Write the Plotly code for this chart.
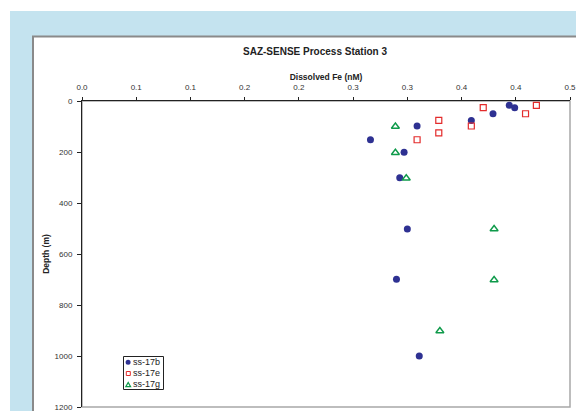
import plotly.graph_objects as go

# ---- data ----
series_names = ["ss-17b", "ss-17e", "ss-17g"]

fe_17b = [0.394, 0.399, 0.379, 0.359, 0.309, 0.266, 0.297, 0.293, 0.300, 0.290, 0.311]
depth_17b = [17, 26, 50, 76, 98, 152, 201, 301, 502, 699, 1000]

fe_17e = [0.419, 0.370, 0.409, 0.329, 0.359, 0.329, 0.309]
depth_17e = [17, 26, 50, 76, 98, 125, 152]

fe_17g = [0.289, 0.289, 0.299, 0.380, 0.380, 0.330]
depth_17g = [100, 203, 303, 502, 702, 902]

x_tickvals = [0.0, 0.05, 0.10, 0.15, 0.20, 0.25, 0.30, 0.35, 0.40, 0.45]
x_ticktext = ["0.0", "0.1", "0.1", "0.2", "0.2", "0.3", "0.3", "0.4", "0.4", "0.5"]
y_tickvals = [0, 200, 400, 600, 800, 1000, 1200]

FONT = "Liberation Sans, Arial, sans-serif"
C_B, C_E, C_G = "#2e3192", "#e32b2b", "#0e9a4a"

fig = go.Figure()
fig.add_trace(go.Scatter(x=fe_17b, y=depth_17b, mode="markers", name=series_names[0],
                         marker=dict(symbol="circle", size=7, color=C_B)))
fig.add_trace(go.Scatter(x=fe_17e, y=depth_17e, mode="markers", name=series_names[1],
                         marker=dict(symbol="square-open", size=6, color=C_E,
                                     line=dict(width=1.2, color=C_E))))
fig.add_trace(go.Scatter(x=fe_17g, y=depth_17g, mode="markers", name=series_names[2],
                         marker=dict(symbol="triangle-up-open", size=7, color=C_G,
                                     line=dict(width=1.4, color=C_G))))

# page has an 8px body margin; figure sized to fit the window
OFF = 8
W, H = 584 - OFF, 411 - OFF
L, R, T, B = 82 - OFF, 14, 101 - OFF, 4
pw, ph = W - L - R, H - T - B


def px(xs):  # screen x -> paper
    return (xs - OFF - L) / pw


def py(ys):  # screen y -> paper
    return (H - B - (ys - OFF)) / ph


shapes = [
    # light blue frame
    dict(type="rect", xref="paper", yref="paper", x0=px(10), x1=px(700), y0=py(700), y1=py(11),
         fillcolor="#c4e3ef", line=dict(width=0), layer="below"),
    # white chart panel
    dict(type="rect", xref="paper", yref="paper", x0=px(33), x1=px(700), y0=py(700), y1=py(36.5),
         fillcolor="white", line=dict(width=2, color="#8a8a8a"), layer="below"),
    # plot area border
    dict(type="rect", xref="paper", yref="paper", x0=0, x1=1, y0=0, y1=1,
         fillcolor="rgba(0,0,0,0)", line=dict(width=1.5, color="#a8a8a8"), layer="below"),
    # legend box
    dict(type="rect", xref="paper", yref="paper", x0=px(123.5), x1=px(163.5), y0=py(389.5), y1=py(356.5),
         fillcolor="white", line=dict(width=1, color="#222222"), layer="above"),
    # legend symbols
    dict(type="circle", xref="paper", yref="paper", x0=px(125.6), x1=px(130.6), y0=py(364.8), y1=py(359.8),
         fillcolor=C_B, line=dict(width=0), layer="above"),
    dict(type="rect", xref="paper", yref="paper", x0=px(126.3), x1=px(130.3), y0=py(375.5), y1=py(371.5),
         fillcolor="white", line=dict(width=1, color=C_E), layer="above"),
    dict(type="path", xref="paper", yref="paper",
         path=f"M {px(125.8)},{py(386.6)} L {px(130.6)},{py(386.6)} L {px(128.2)},{py(382.4)} Z",
         fillcolor="white", line=dict(width=1.2, color=C_G), layer="above"),
]

annotations = [
    dict(text=name, xref="paper", yref="paper", x=px(130.5), y=py(yc), xanchor="left", yanchor="middle",
         showarrow=False, font=dict(family=FONT, size=9, color="#222222"))
    for name, yc in zip(series_names, [362.3, 373.2, 384.4])
]

fig.update_layout(
    width=W, height=H,
    margin=dict(l=L, r=R, t=T, b=B, autoexpand=False),
    paper_bgcolor="white", plot_bgcolor="white",
    font=dict(family=FONT, size=8, color="#333333"),
    title=dict(text="<b>SAZ-SENSE Process Station 3</b>", xref="container", yref="container",
               x=(315 - OFF) / W, y=1 - (51 - OFF) / H, xanchor="center", yanchor="middle",
               font=dict(family=FONT, size=10, color="#222222")),
    shapes=shapes,
    annotations=annotations,
    showlegend=False,
    xaxis=dict(side="top", range=[0, 0.45], tickvals=x_tickvals, ticktext=x_ticktext,
               automargin=False,
               showgrid=False, zeroline=False, showline=True, linecolor="#222222", linewidth=1,
               ticks="outside", ticklen=3, tickcolor="#222222", ticklabelstandoff=4,
               ticklabeloverflow="allow",
               tickfont=dict(family=FONT, size=8, color="#333333"),
               title=dict(text="<b>Dissolved Fe (nM)</b>", standoff=0,
                          font=dict(family=FONT, size=8.5, color="#222222"))),
    yaxis=dict(range=[1200, 0], tickvals=y_tickvals,
               automargin=False,
               showgrid=False, zeroline=False, showline=True, linecolor="#222222", linewidth=1,
               ticks="outside", ticklen=4, tickcolor="#222222", ticklabelstandoff=3,
               ticklabeloverflow="allow",
               tickfont=dict(family=FONT, size=8, color="#333333"),
               title=dict(text="<b>Depth (m)</b>", standoff=3,
                          font=dict(family=FONT, size=8.5, color="#222222"))),
)

fig.write_html("out.html")
